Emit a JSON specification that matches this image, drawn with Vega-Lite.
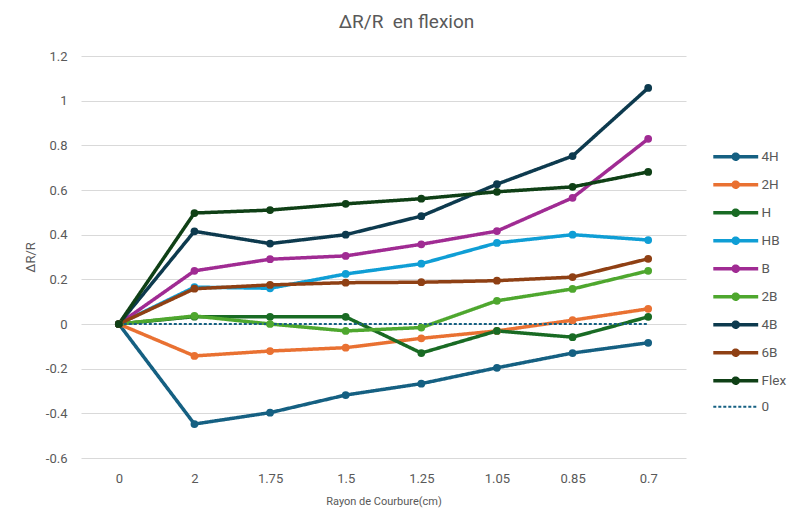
{
  "$schema": "https://vega.github.io/schema/vega-lite/v6.json",
  "width": 605,
  "height": 402,
  "autosize": "none",
  "padding": {"left": 81, "top": 56, "right": 117, "bottom": 62},
  "background": "white",
  "title": {
    "text": "ΔR/R\u00a0\u00a0en flexion",
    "fontSize": 19,
    "font": "Roboto, sans-serif",
    "fontWeight": "normal",
    "color": "#595959",
    "anchor": "middle",
    "dx": 23,
    "offset": 18
  },
  "data": {
    "values": [
      {"x": "0", "s": "4H", "v": 0}, {"x": "2", "s": "4H", "v": -0.448}, {"x": "1.75", "s": "4H", "v": -0.397}, {"x": "1.5", "s": "4H", "v": -0.318}, {"x": "1.25", "s": "4H", "v": -0.267}, {"x": "1.05", "s": "4H", "v": -0.196}, {"x": "0.85", "s": "4H", "v": -0.13}, {"x": "0.7", "s": "4H", "v": -0.084},
      {"x": "0", "s": "2H", "v": 0}, {"x": "2", "s": "2H", "v": -0.143}, {"x": "1.75", "s": "2H", "v": -0.121}, {"x": "1.5", "s": "2H", "v": -0.106}, {"x": "1.25", "s": "2H", "v": -0.064}, {"x": "1.05", "s": "2H", "v": -0.031}, {"x": "0.85", "s": "2H", "v": 0.017}, {"x": "0.7", "s": "2H", "v": 0.068},
      {"x": "0", "s": "H", "v": 0}, {"x": "2", "s": "H", "v": 0.033}, {"x": "1.75", "s": "H", "v": 0.032}, {"x": "1.5", "s": "H", "v": 0.032}, {"x": "1.25", "s": "H", "v": -0.13}, {"x": "1.05", "s": "H", "v": -0.031}, {"x": "0.85", "s": "H", "v": -0.059}, {"x": "0.7", "s": "H", "v": 0.032},
      {"x": "0", "s": "HB", "v": 0}, {"x": "2", "s": "HB", "v": 0.165}, {"x": "1.75", "s": "HB", "v": 0.16}, {"x": "1.5", "s": "HB", "v": 0.224}, {"x": "1.25", "s": "HB", "v": 0.27}, {"x": "1.05", "s": "HB", "v": 0.363}, {"x": "0.85", "s": "HB", "v": 0.4}, {"x": "0.7", "s": "HB", "v": 0.376},
      {"x": "0", "s": "B", "v": 0}, {"x": "2", "s": "B", "v": 0.238}, {"x": "1.75", "s": "B", "v": 0.29}, {"x": "1.5", "s": "B", "v": 0.305}, {"x": "1.25", "s": "B", "v": 0.357}, {"x": "1.05", "s": "B", "v": 0.416}, {"x": "0.85", "s": "B", "v": 0.565}, {"x": "0.7", "s": "B", "v": 0.829},
      {"x": "0", "s": "2B", "v": 0}, {"x": "2", "s": "2B", "v": 0.036}, {"x": "1.75", "s": "2B", "v": 0}, {"x": "1.5", "s": "2B", "v": -0.031}, {"x": "1.25", "s": "2B", "v": -0.016}, {"x": "1.05", "s": "2B", "v": 0.104}, {"x": "0.85", "s": "2B", "v": 0.157}, {"x": "0.7", "s": "2B", "v": 0.238},
      {"x": "0", "s": "4B", "v": 0}, {"x": "2", "s": "4B", "v": 0.415}, {"x": "1.75", "s": "4B", "v": 0.36}, {"x": "1.5", "s": "4B", "v": 0.4}, {"x": "1.25", "s": "4B", "v": 0.483}, {"x": "1.05", "s": "4B", "v": 0.626}, {"x": "0.85", "s": "4B", "v": 0.752}, {"x": "0.7", "s": "4B", "v": 1.057},
      {"x": "0", "s": "6B", "v": 0}, {"x": "2", "s": "6B", "v": 0.158}, {"x": "1.75", "s": "6B", "v": 0.175}, {"x": "1.5", "s": "6B", "v": 0.185}, {"x": "1.25", "s": "6B", "v": 0.187}, {"x": "1.05", "s": "6B", "v": 0.194}, {"x": "0.85", "s": "6B", "v": 0.21}, {"x": "0.7", "s": "6B", "v": 0.292},
      {"x": "0", "s": "Flex", "v": 0}, {"x": "2", "s": "Flex", "v": 0.497}, {"x": "1.75", "s": "Flex", "v": 0.51}, {"x": "1.5", "s": "Flex", "v": 0.538}, {"x": "1.25", "s": "Flex", "v": 0.561}, {"x": "1.05", "s": "Flex", "v": 0.592}, {"x": "0.85", "s": "Flex", "v": 0.614}, {"x": "0.7", "s": "Flex", "v": 0.681},
      {"x": "0", "s": "0", "v": 0}, {"x": "2", "s": "0", "v": 0}, {"x": "1.75", "s": "0", "v": 0}, {"x": "1.5", "s": "0", "v": 0}, {"x": "1.25", "s": "0", "v": 0}, {"x": "1.05", "s": "0", "v": 0}, {"x": "0.85", "s": "0", "v": 0}, {"x": "0.7", "s": "0", "v": 0}
    ]
  },
  "config": {
    "view": {"stroke": null},
    "font": "Roboto, sans-serif",
    "axis": {"labelColor": "#595959", "titleColor": "#595959", "labelFontSize": 13, "titleFontWeight": "normal", "domain": false, "ticks": false}
  },
  "encoding": {
    "x": {
      "field": "x", "type": "nominal",
      "sort": ["0", "2", "1.75", "1.5", "1.25", "1.05", "0.85", "0.7"],
      "scale": {"paddingInner": 0, "paddingOuter": 0},
      "axis": {"labelAngle": 0, "labelPadding": 14, "title": "Rayon de Courbure(cm)", "titleFontSize": 11, "titlePadding": 10, "grid": false}
    },
    "y": {
      "field": "v", "type": "quantitative",
      "scale": {"domain": [-0.6, 1.2], "nice": false, "zero": false},
      "axis": {"values": [-0.6, -0.4, -0.2, 0, 0.2, 0.4, 0.6, 0.8, 1, 1.2], "labelExpr": "toString(round(datum.value*10)/10)", "labelPadding": 14, "gridColor": "#d9d9d9", "gridWidth": 1.2, "title": "ΔR/R", "titleFontSize": 13, "titlePadding": 8}
    },
    "color": {
      "field": "s", "type": "nominal",
      "scale": {
        "domain": ["4H", "2H", "H", "HB", "B", "2B", "4B", "6B", "Flex", "0"],
        "range": ["#156082", "#E97132", "#196B24", "#0F9ED5", "#A02B93", "#4EA72E", "#0D3A4E", "#8F4014", "#0F4016", "#156082"]
      },
      "legend": {
        "title": null,
        "orient": "none",
        "legendX": 648,
        "legendY": 94,
        "padding": 0,
        "labelFontSize": 13.5,
        "labelColor": "#595959",
        "labelOffset": 19,
        "symbolSize": 126,
        "symbolStrokeWidth": 3.5,
        "rowPadding": 8,
        "symbolType": "M-4,0H4",
        "encode": {
          "symbols": {
            "update": {
              "shape": {"signal": "datum.value === '0' ? 'M-4,0H4' : 'M-4,0H4M0.45,0A0.45,0.45,0,1,1,-0.45,0A0.45,0.45,0,1,1,0.45,0'"},
              "strokeDash": {"signal": "datum.value === '0' ? [3, 2] : [1, 0]"},
              "strokeWidth": {"signal": "datum.value === '0' ? 2 : 3.5"},
              "fill": {"signal": "scale('color', datum.value)"}
            }
          }
        }
      }
    }
  },
  "layer": [
    {
      "mark": {"type": "line", "strokeJoin": "round"},
      "encoding": {
        "strokeWidth": {"condition": {"test": "datum.s === '0'", "value": 2}, "value": 3.5},
        "strokeDash": {"condition": {"test": "datum.s === '0'", "value": [3, 2]}, "value": [1, 0]}
      }
    },
    {
      "transform": [{"filter": "datum.s !== '0'"}],
      "mark": {"type": "point", "filled": true, "opacity": 1, "size": 60},
      "encoding": {"shape": {"value": "circle"}}
    }
  ]
}
